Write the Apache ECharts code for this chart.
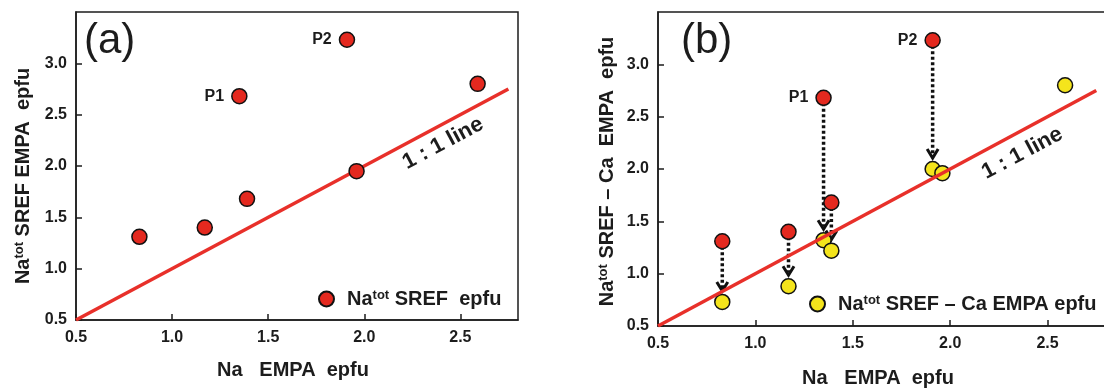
<!DOCTYPE html>
<html>
<head>
<meta charset="utf-8">
<script src="https://cdn.jsdelivr.net/npm/echarts@6/dist/echarts.min.js"></script>
<style>
  html, body { margin: 0; padding: 0; background: #ffffff; }
  #chart { width: 1104px; height: 391px; }
</style>
</head>
<body>
<div id="chart"></div>
<script>
// Na (epfu) from EMPA against Na from structure refinement (SREF)
const naEmpa        = [0.83, 1.17, 1.35, 1.39, 1.91, 1.96, 2.59];
const naSref        = [1.31, 1.40, 2.68, 1.68, 3.23, 1.95, 2.80];
const naSrefMinusCa = [0.73, 0.88, 1.32, 1.22, 2.00, 1.96, 2.80];
const pointNames    = ['', '', 'P1', '', 'P2', '', ''];
const lineEnds      = [0.5, 2.75];   // 1:1 reference line, x = y
const xRange        = [0.5, 2.8];
const yRange        = [0.5, 3.5];
const tickStep      = 0.5;

const FONT = 'Arial, "Liberation Sans", Helvetica, sans-serif';
const INK = '#1c1c1c';
const RED = '#e4291f';
const YELLOW = '#f4e41c';
const LINE_RED = '#e8302a';

const rich = {
  n: { fontSize: 20, fontWeight: 'bold', fontFamily: FONT, color: INK },
  s: { fontSize: 13, fontWeight: 'bold', fontFamily: FONT, color: INK, verticalAlign: 'top' },
  pad: { fontSize: 20, fontWeight: 'bold', fontFamily: FONT, color: INK, padding: [0, 0, 0, 8] }
};

const nameSref = 'Na tot SREF epfu';
const nameDiff = 'Na tot SREF - Ca EMPA epfu';
const legendText = {
  [nameSref]: '{pad|Na}{s|tot}{n| SREF  epfu}',
  [nameDiff]: '{pad|Na}{s|tot}{n| SREF – Ca EMPA epfu}'
};

function xAxis(gridIndex, gap) {
  return {
    type: 'value', gridIndex, min: xRange[0], max: xRange[1], interval: tickStep,
    axisLine: { show: true, onZero: false, lineStyle: { color: INK, width: 1.5 } },
    axisTick: { inside: true, length: 6, lineStyle: { color: INK, width: 1.5 } },
    splitLine: { show: false },
    axisLabel: {
      showMaxLabel: false, margin: 10, color: INK, fontSize: 16, fontWeight: 'bold',
      fontFamily: FONT, formatter: v => v.toFixed(1)
    },
    name: '{n|Na   EMPA  epfu}', nameLocation: 'middle', nameGap: gap,
    nameTextStyle: { rich, padding: [0, 8, 0, 0] }
  };
}

function yAxis(gridIndex, name, gap, shift) {
  return {
    type: 'value', gridIndex, min: yRange[0], max: yRange[1], interval: tickStep,
    axisLine: { show: true, onZero: false, lineStyle: { color: INK, width: 1.5 } },
    axisTick: { inside: true, length: 6, lineStyle: { color: INK, width: 1.5 } },
    splitLine: { show: false },
    axisLabel: {
      showMaxLabel: false, margin: 9, color: INK, fontSize: 16, fontWeight: 'bold',
      fontFamily: FONT, formatter: v => v.toFixed(1)
    },
    name, nameLocation: 'middle', nameGap: gap,
    nameTextStyle: { rich, padding: [0, shift, 0, 0] }
  };
}

const pairsSref = naEmpa.map((x, i) => [x, naSref[i]]);
const pairsDiff = naEmpa.map((x, i) => [x, naSrefMinusCa[i]]);
// points that moved after subtracting Ca keep their original marker and an arrow
const shifted = naEmpa.map((x, i) => i).filter(i => Math.abs(naSref[i] - naSrefMinusCa[i]) > 0.1);
const arrows = shifted.map(i => [naEmpa[i], naSref[i], naSrefMinusCa[i]]);

const redStyle = { color: RED, borderColor: '#111', borderWidth: 1.5, opacity: 1 };
const yellowStyle = { color: YELLOW, borderColor: '#111', borderWidth: 1.5, opacity: 1 };
const pointLabel = {
  show: true, position: 'left', distance: 7,
  fontSize: 16, fontWeight: 'bold', fontFamily: FONT, color: INK, opacity: 1
};

function oneToOneSeries(xi, labelAt) {
  return {
    type: 'line', xAxisIndex: xi, yAxisIndex: xi, z: 4, silent: true,
    data: lineEnds.map(v => [v, v]), symbol: 'none',
    lineStyle: { color: LINE_RED, width: 3.5, opacity: 1 },
    markPoint: {
      symbol: 'circle', symbolSize: 0, silent: true,
      data: [{ coord: labelAt }],
      label: {
        show: true, formatter: '1 : 1 line', rotate: 28,
        fontSize: 22, fontWeight: 'bold', fontFamily: FONT, color: INK
      }
    }
  };
}

const option = {
  animation: false,
  backgroundColor: '#ffffff',
  grid: [
    { left: 76, top: 12, width: 442, height: 308, show: true, borderColor: INK, borderWidth: 1.5, outerBoundsMode: 'none' },
    { left: 658, top: 12, width: 448, height: 314, show: true, borderColor: INK, borderWidth: 1.5, outerBoundsMode: 'none' }
  ],
  xAxis: [xAxis(0, 40), xAxis(1, 42)],
  yAxis: [
    yAxis(0, '{n|Na}{s|tot}{n| SREF EMPA  epfu}', 43, 20),
    yAxis(1, '{n|Na}{s|tot}{n| SREF – Ca  EMPA  epfu}', 41, 5)
  ],
  legend: [
    {
      data: [nameSref], left: 313, top: 284, icon: 'circle', itemWidth: 15, itemHeight: 15,
      formatter: n => legendText[n], textStyle: { rich }, selectedMode: false
    },
    {
      data: [nameDiff], left: 804, top: 289, icon: 'circle', itemWidth: 15, itemHeight: 15,
      formatter: n => legendText[n], textStyle: { rich }, selectedMode: false
    }
  ],
  graphic: [
    { type: 'text', left: 84, top: 20, style: { text: '(a)', fontSize: 42, fontFamily: FONT, fill: INK } },
    { type: 'text', left: 681, top: 20, style: { text: '(b)', fontSize: 42, fontFamily: FONT, fill: INK } }
  ],
  series: [
    oneToOneSeries(0, [2.41, 2.22]),
    {
      name: nameSref, type: 'scatter', xAxisIndex: 0, yAxisIndex: 0, z: 5,
      data: pairsSref, symbol: 'circle', symbolSize: 15, itemStyle: redStyle,
      label: Object.assign({ formatter: p => pointNames[p.dataIndex] }, pointLabel)
    },
    {
      type: 'custom', xAxisIndex: 1, yAxisIndex: 1, z: 2, silent: true,
      data: arrows,
      renderItem: (params, api) => {
        const top = api.coord([api.value(0), api.value(1)]);
        const bot = api.coord([api.value(0), api.value(2)]);
        const x = top[0];
        const tip = bot[1] - 11;
        return {
          type: 'group',
          children: [
            {
              type: 'line',
              shape: { x1: x, y1: top[1], x2: x, y2: tip - 3 },
              style: { stroke: '#111', lineWidth: 3.5, lineDash: [3, 2.5] }
            },
            {
              type: 'polyline',
              shape: { points: [[x - 5.5, tip - 9], [x, tip], [x + 5.5, tip - 9]] },
              style: { stroke: '#111', lineWidth: 3, fill: null }
            }
          ]
        };
      }
    },
    {
      name: nameDiff, type: 'scatter', xAxisIndex: 1, yAxisIndex: 1, z: 3,
      data: pairsDiff, symbol: 'circle', symbolSize: 15, itemStyle: yellowStyle
    },
    oneToOneSeries(1, [2.37, 2.15]),
    {
      name: 'shifted', type: 'scatter', xAxisIndex: 1, yAxisIndex: 1, z: 5,
      data: shifted.map(i => pairsSref[i]), symbol: 'circle', symbolSize: 15, itemStyle: redStyle,
      label: Object.assign({ formatter: p => pointNames[shifted[p.dataIndex]] }, pointLabel)
    }
  ]
};

const chart = echarts.init(document.getElementById('chart'), null, { renderer: 'canvas' });
chart.setOption(option);
</script>
</body>
</html>
